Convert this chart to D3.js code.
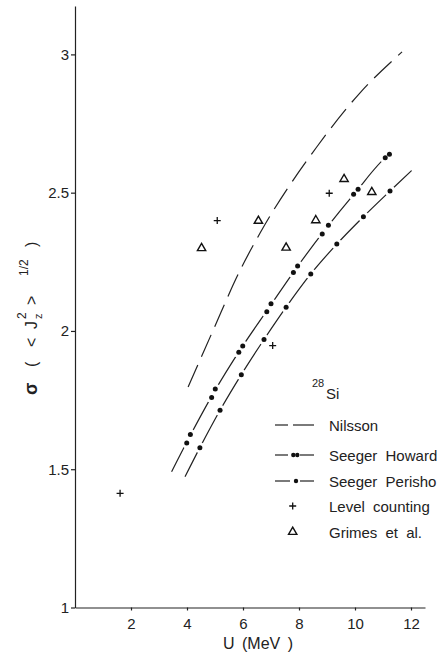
<!DOCTYPE html>
<html>
<head>
<meta charset="utf-8">
<script src="https://cdn.jsdelivr.net/npm/d3@7"></script>
<style>
  body { margin: 0; background: #fff; }
  svg { display: block; font-family: 'Liberation Sans', Arial, sans-serif; }
  .axis path, .axis line { stroke: #222; stroke-width: 1.2; }
  .axis text { font-size: 15px; fill: #222; }
</style>
</head>
<body>
<svg width="443" height="656"></svg>
<script>
// data (U in MeV, sigma)
var nilssonU     = [4.04, 4.94, 5.87, 6.61, 8.64, 10.18, 11.68];
var nilssonSigma = [1.797, 2.004, 2.214, 2.354, 2.666, 2.861, 3.009];

var howardCurveU     = [3.45, 4.055, 4.945, 5.92, 6.925, 7.875, 8.94, 10.03, 11.155, 11.23];
var howardCurveSigma = [1.491, 1.61, 1.775, 1.935, 2.084, 2.223, 2.367, 2.503, 2.633, 2.639];
var howardDotU     = [3.99, 4.12, 4.88, 5.01, 5.85, 5.99, 6.85, 7.0, 7.80, 7.95, 8.83, 9.05, 9.95, 10.11, 11.08, 11.23];
var howardDotSigma = [1.595, 1.626, 1.759, 1.790, 1.923, 1.946, 2.069, 2.098, 2.211, 2.235, 2.351, 2.382, 2.494, 2.512, 2.626, 2.639];

var perishoCurveU     = [3.93, 4.46, 5.18, 5.94, 6.75, 7.54, 8.42, 9.35, 10.30, 11.25, 12.02];
var perishoCurveSigma = [1.473, 1.578, 1.713, 1.842, 1.969, 2.086, 2.206, 2.314, 2.413, 2.506, 2.58];
var perishoDotU     = [4.46, 5.18, 5.94, 6.75, 7.54, 8.42, 9.35, 10.30, 11.25];
var perishoDotSigma = [1.578, 1.713, 1.842, 1.969, 2.086, 2.206, 2.314, 2.413, 2.506];

var levelU     = [1.61, 5.08, 7.06, 9.08];
var levelSigma = [1.413, 2.399, 1.947, 2.498];

var grimesU     = [4.52, 6.55, 7.54, 8.60, 9.61, 10.60];
var grimesSigma = [2.299, 2.398, 2.301, 2.400, 2.549, 2.502];

var xTicks = [2, 4, 6, 8, 10, 12];
var yTicks = [1, 1.5, 2, 2.5, 3];
var legendLabels = ['Nilsson', 'Seeger Howard', 'Seeger Perisho', 'Level counting', 'Grimes et al.'];

var svg = d3.select('svg'),
  margin = {top: 6, right: 18, bottom: 48.5, left: 75},
  width = +svg.attr('width') - margin.left - margin.right,
  height = +svg.attr('height') - margin.top - margin.bottom;

var x = d3.scaleLinear().domain([0, 12.5]).range([0, width]),
    y = d3.scaleLinear().domain([1, 3.175]).range([height, 0]);

var g = svg.append('g')
    .attr('transform', 'translate(' + margin.left + ',' + margin.top + ')');

g.append('g')
  .attr('class', 'axis axis--x')
  .attr('transform', 'translate(0,' + height + ')')
  .call(d3.axisBottom(x).tickValues(xTicks).tickSize(3).tickSizeOuter(0).tickPadding(8));

g.append('g')
  .attr('class', 'axis axis--y')
  .call(d3.axisLeft(y).tickValues(yTicks).tickSize(4).tickSizeOuter(0).tickPadding(2)
    .tickFormat(function(d) { return d; }));

function zip(us, ss) {
  return us.map(function(u, i) { return [u, ss[i]]; });
}

var line = d3.line()
  .x(function(d) { return x(d[0]); })
  .y(function(d) { return y(d[1]); })
  .curve(d3.curveMonotoneX);

// Nilsson dashed curve
g.append('path')
  .attr('d', line(zip(nilssonU, nilssonSigma)))
  .attr('fill', 'none')
  .attr('stroke', '#222')
  .attr('stroke-width', 1.2)
  .attr('stroke-dasharray', '24,9');

// Seeger curves, solid lines broken by the dots
[[howardCurveU, howardCurveSigma, howardDotU, howardDotSigma],
 [perishoCurveU, perishoCurveSigma, perishoDotU, perishoDotSigma]].forEach(function(s) {
  g.append('path')
    .attr('d', line(zip(s[0], s[1])))
    .attr('fill', 'none')
    .attr('stroke', '#222')
    .attr('stroke-width', 1.2);

  var pts = zip(s[2], s[3]);
  g.selectAll(null)
    .data(pts)
    .enter().append('circle')
    .attr('cx', function(d) { return x(d[0]); })
    .attr('cy', function(d) { return y(d[1]); })
    .attr('r', 5.5)
    .attr('fill', '#fff');
  g.selectAll(null)
    .data(pts)
    .enter().append('circle')
    .attr('cx', function(d) { return x(d[0]); })
    .attr('cy', function(d) { return y(d[1]); })
    .attr('r', 2.5)
    .attr('fill', '#111');
});

var plusPath = 'M-3.5,0H3.5M0,-3.5V3.5';
var tri = d3.symbol().type(d3.symbolTriangle).size(30);

g.selectAll('.level')
  .data(zip(levelU, levelSigma))
  .enter().append('path')
  .attr('class', 'level')
  .attr('transform', function(d) { return 'translate(' + x(d[0]) + ',' + y(d[1]) + ')'; })
  .attr('d', plusPath)
  .attr('stroke', '#111')
  .attr('stroke-width', 1.3);

g.selectAll('.grimes')
  .data(zip(grimesU, grimesSigma))
  .enter().append('path')
  .attr('class', 'grimes')
  .attr('transform', function(d) { return 'translate(' + x(d[0]) + ',' + y(d[1]) + ')'; })
  .attr('d', tri)
  .attr('fill', '#fff')
  .attr('stroke', '#111')
  .attr('stroke-width', 1.4);

// axis titles
svg.append('text')
  .attr('x', 258)
  .attr('y', 649)
  .attr('text-anchor', 'middle')
  .style('font-size', '16px')
  .style('word-spacing', '3px')
  .attr('fill', '#222')
  .text('U (MeV )');

var yl = svg.append('g')
  .attr('transform', 'translate(37,395) rotate(-90)')
  .attr('fill', '#222')
  .style('font-size', '16px');
yl.append('text').attr('x', 0).style('font-weight', 'bold').style('font-size', '18px').text('σ');
yl.append('text').attr('x', 28).text('(');
yl.append('text').attr('x', 48).text('<');
yl.append('text').attr('x', 66).text('J');
yl.append('text').attr('x', 76).attr('y', 5).style('font-size', '11px').text('z');
yl.append('text').attr('x', 76).attr('y', -11).style('font-size', '12px').text('2');
yl.append('text').attr('x', 90).text('>');
yl.append('text').attr('x', 119).attr('y', -9).style('font-size', '12px').text('1/2');
yl.append('text').attr('x', 148).text(')');

// legend
var lg = svg.append('g')
  .attr('transform', 'translate(275,0)')
  .attr('fill', '#222');

lg.append('text').attr('x', 37).attr('y', 387).style('font-size', '11px').text('28');
lg.append('text').attr('x', 51).attr('y', 399).style('font-size', '15px').text('Si');

var legendY = [431, 461, 487, 512, 538];
lg.selectAll('.lab')
  .data(legendLabels)
  .enter().append('text')
  .attr('class', 'lab')
  .attr('x', 54)
  .attr('y', function(d, i) { return legendY[i]; })
  .style('font-size', '15px')
  .style('word-spacing', '4px')
  .text(function(d) { return d; });

function seg(x1, x2, yy) {
  lg.append('line').attr('x1', x1).attr('x2', x2).attr('y1', yy).attr('y2', yy)
    .attr('stroke', '#222').attr('stroke-width', 1.2);
}
seg(0, 13, legendY[0] - 6); seg(18, 39, legendY[0] - 6);
seg(0, 13, legendY[1] - 6); seg(25, 39, legendY[1] - 6);
[18.3, 22.3].forEach(function(cx) {
  lg.append('circle').attr('cx', cx).attr('cy', legendY[1] - 6).attr('r', 2.2).attr('fill', '#111');
});
seg(0, 15, legendY[2] - 6); seg(25, 39, legendY[2] - 6);
lg.append('circle').attr('cx', 21).attr('cy', legendY[2] - 6).attr('r', 2.2).attr('fill', '#111');
lg.append('path').attr('transform', 'translate(17.7,' + (legendY[3] - 6) + ')')
  .attr('d', plusPath).attr('stroke', '#111').attr('stroke-width', 1.3);
lg.append('path').attr('transform', 'translate(17.7,' + (legendY[4] - 6) + ')')
  .attr('d', tri).attr('fill', '#fff').attr('stroke', '#111').attr('stroke-width', 1.4);
</script>
</body>
</html>
